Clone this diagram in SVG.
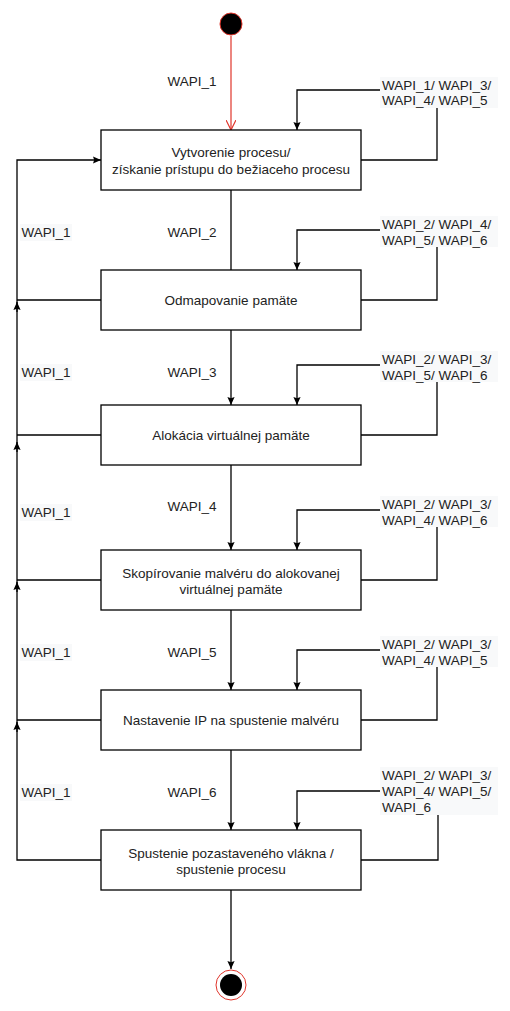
<svg xmlns="http://www.w3.org/2000/svg" width="510" height="1011" viewBox="0 0 510 1011">
<style>
.box{fill:#ffffff;stroke:#000000;stroke-width:1.3}
.ln{fill:none;stroke:#000000;stroke-width:1.3}
.t{font-family:"Liberation Sans",Arial,sans-serif;font-size:13.5px;fill:#222222}
.m{text-anchor:middle}
.bg{fill:#f8f9fa;stroke:none}
</style>
<defs>
<marker id="ah" viewBox="0 0 10 10" refX="10" refY="5" markerWidth="8" markerHeight="8" markerUnits="userSpaceOnUse" orient="auto">
<path d="M0,0.5 L10,5 L0,9.5 L1.5,5 z" fill="#000000"/>
</marker>
<marker id="ahr" viewBox="0 0 10 10" refX="10" refY="5" markerWidth="10" markerHeight="10" markerUnits="userSpaceOnUse" orient="auto">
<path d="M0,0 L10,5 L0,10" fill="none" stroke="#e0352b" stroke-width="1.2"/>
</marker>
</defs>
<rect width="510" height="1011" fill="#ffffff"/>
<g id="connectors">
<line x1="231" y1="36" x2="231" y2="130" stroke="#e0352b" stroke-width="1.2" marker-end="url(#ahr)"/>
<line class="ln" x1="231" y1="190" x2="231" y2="270"/>
<line class="ln" x1="231" y1="330" x2="231" y2="405" marker-end="url(#ah)"/>
<line class="ln" x1="231" y1="465" x2="231" y2="550" marker-end="url(#ah)"/>
<line class="ln" x1="231" y1="610" x2="231" y2="690" marker-end="url(#ah)"/>
<line class="ln" x1="231" y1="750" x2="231" y2="830" marker-end="url(#ah)"/>
<line class="ln" x1="231" y1="890" x2="231" y2="969" marker-end="url(#ah)"/>
<path class="ln" d="M361,160 H437 V90 H297 V130" marker-end="url(#ah)"/>
<path class="ln" d="M361,300 H437 V230 H297 V270" marker-end="url(#ah)"/>
<path class="ln" d="M361,435 H437 V365 H297 V405" marker-end="url(#ah)"/>
<path class="ln" d="M361,580 H437 V510 H297 V550" marker-end="url(#ah)"/>
<path class="ln" d="M361,720 H437 V650 H297 V690" marker-end="url(#ah)"/>
<path class="ln" d="M361,860 H438 V791 H297 V830" marker-end="url(#ah)"/>
<path class="ln" d="M101,860 H17 V160 H101" marker-end="url(#ah)"/>
<line class="ln" x1="17" y1="300" x2="101" y2="300"/>
<line class="ln" x1="17" y1="435" x2="101" y2="435"/>
<line class="ln" x1="17" y1="580" x2="101" y2="580"/>
<line class="ln" x1="17" y1="720" x2="101" y2="720"/>
<line class="ln" x1="17" y1="312" x2="17" y2="302" marker-end="url(#ah)"/>
<line class="ln" x1="17" y1="452" x2="17" y2="442" marker-end="url(#ah)"/>
<line class="ln" x1="17" y1="592" x2="17" y2="582" marker-end="url(#ah)"/>
<line class="ln" x1="17" y1="732" x2="17" y2="722" marker-end="url(#ah)"/>
</g>
<g id="labels">
<text class="t m" x="192" y="86">WAPI_1</text>
<text class="t m" x="192" y="237">WAPI_2</text>
<text class="t m" x="192" y="377">WAPI_3</text>
<text class="t m" x="192" y="511">WAPI_4</text>
<text class="t m" x="192" y="657">WAPI_5</text>
<text class="t m" x="192" y="797">WAPI_6</text>
<rect class="bg" x="20" y="224" width="52" height="17"/><text class="t m" x="46" y="237">WAPI_1</text>
<rect class="bg" x="20" y="364" width="52" height="17"/><text class="t m" x="46" y="377">WAPI_1</text>
<rect class="bg" x="20" y="504" width="52" height="17"/><text class="t m" x="46" y="517">WAPI_1</text>
<rect class="bg" x="20" y="644" width="52" height="17"/><text class="t m" x="46" y="657">WAPI_1</text>
<rect class="bg" x="20" y="784" width="52" height="17"/><text class="t m" x="46" y="797">WAPI_1</text>
<rect class="bg" x="380" y="77" width="118" height="31"/>
<text class="t" x="382" y="90">WAPI_1/ WAPI_3/</text><text class="t" x="382" y="105">WAPI_4/ WAPI_5</text>
<rect class="bg" x="380" y="216" width="118" height="31"/>
<text class="t" x="382" y="229">WAPI_2/ WAPI_4/</text><text class="t" x="382" y="245">WAPI_5/ WAPI_6</text>
<rect class="bg" x="380" y="351" width="118" height="31"/>
<text class="t" x="382" y="364">WAPI_2/ WAPI_3/</text><text class="t" x="382" y="380">WAPI_5/ WAPI_6</text>
<rect class="bg" x="380" y="496" width="118" height="31"/>
<text class="t" x="382" y="509">WAPI_2/ WAPI_3/</text><text class="t" x="382" y="525">WAPI_4/ WAPI_6</text>
<rect class="bg" x="380" y="636" width="118" height="31"/>
<text class="t" x="382" y="649">WAPI_2/ WAPI_3/</text><text class="t" x="382" y="665">WAPI_4/ WAPI_5</text>
<rect class="bg" x="380" y="767" width="118" height="48"/>
<text class="t" x="382" y="780">WAPI_2/ WAPI_3/</text><text class="t" x="382" y="796">WAPI_4/ WAPI_5/</text><text class="t" x="382" y="812">WAPI_6</text>
</g>
<g id="start"><circle cx="231" cy="24" r="11" fill="#000000" stroke="#e0352b" stroke-width="1"/></g>
<g id="n1"><rect class="box" x="101" y="130" width="260" height="60"/>
<text class="t m" x="231" y="157">Vytvorenie procesu/</text><text class="t m" x="231" y="174">získanie prístupu do bežiaceho procesu</text></g>
<g id="n2"><rect class="box" x="101" y="270" width="260" height="60"/>
<text class="t m" x="231" y="305">Odmapovanie pamäte</text></g>
<g id="n3"><rect class="box" x="101" y="405" width="260" height="60"/>
<text class="t m" x="231" y="440">Alokácia virtuálnej pamäte</text></g>
<g id="n4"><rect class="box" x="101" y="550" width="260" height="60"/>
<text class="t m" x="231" y="578">Skopírovanie malvéru do alokovanej</text><text class="t m" x="231" y="594">virtuálnej pamäte</text></g>
<g id="n5"><rect class="box" x="101" y="690" width="260" height="60"/>
<text class="t m" x="231" y="725">Nastavenie IP na spustenie malvéru</text></g>
<g id="n6"><rect class="box" x="101" y="830" width="260" height="60"/>
<text class="t m" x="231" y="858">Spustenie pozastaveného vlákna /</text><text class="t m" x="231" y="874">spustenie procesu</text></g>
<g id="end"><circle cx="231" cy="985" r="15" fill="#ffffff" stroke="#e0352b" stroke-width="1"/><circle cx="231" cy="985" r="11" fill="#000000"/></g>
</svg>
